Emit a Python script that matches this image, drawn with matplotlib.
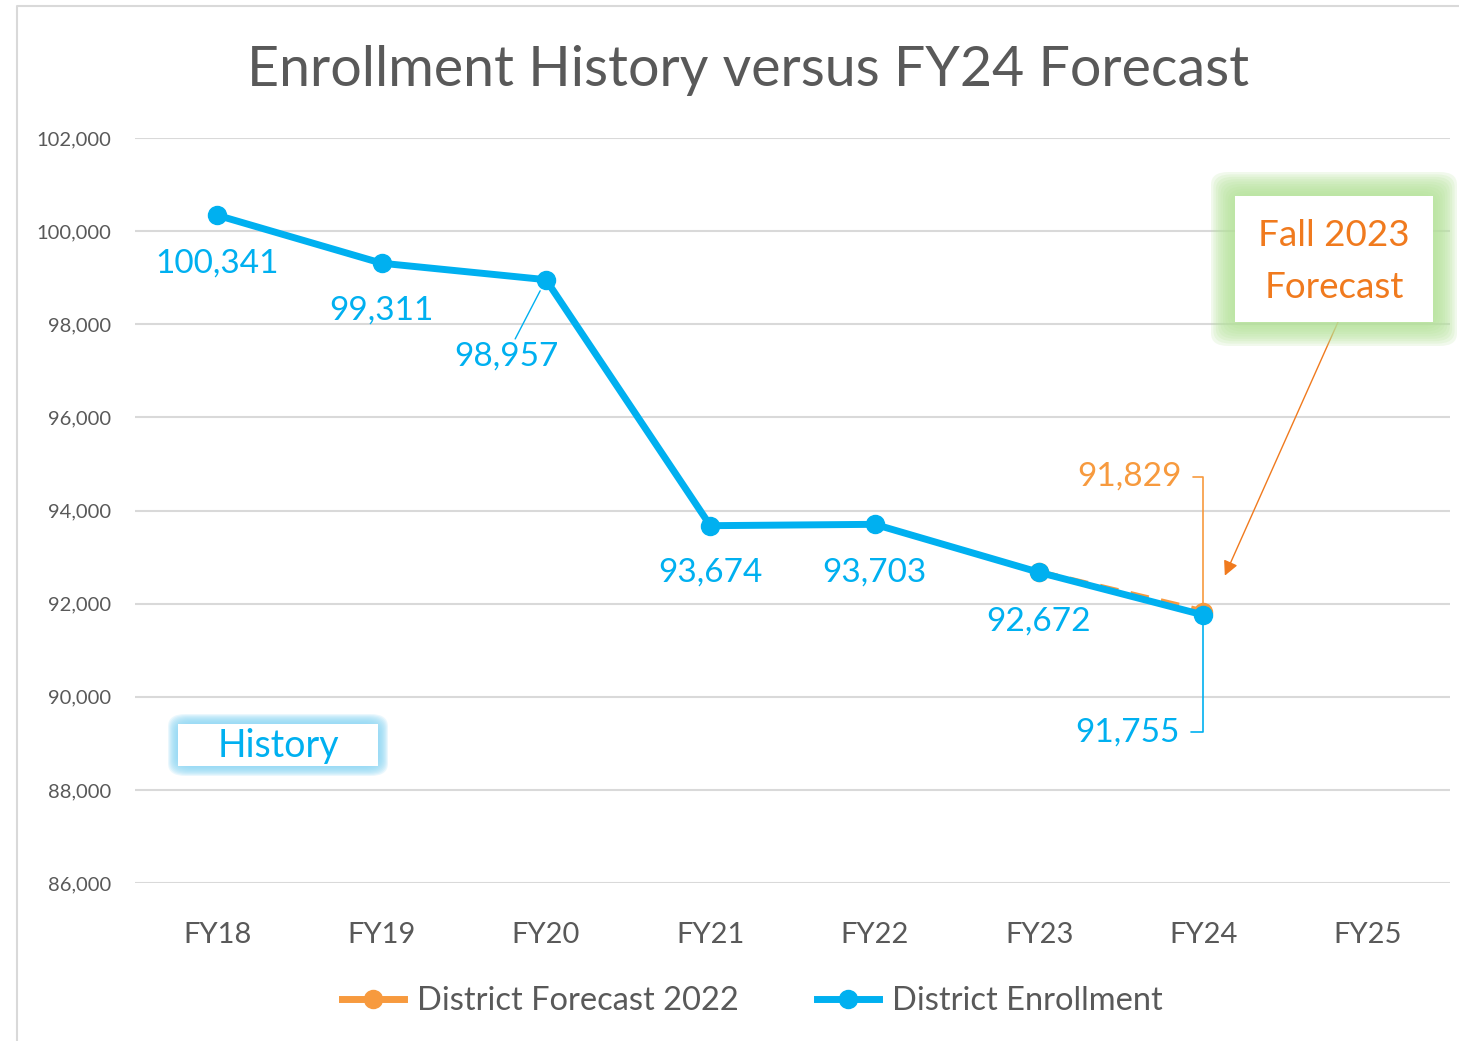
import numpy as np
import matplotlib
matplotlib.use("Agg")
import matplotlib.pyplot as plt
from matplotlib.patches import FancyBboxPatch
from matplotlib.lines import Line2D

#%% Datos
years = ["FY18", "FY19", "FY20", "FY21", "FY22", "FY23", "FY24", "FY25"]
enrollment = [100341, 99311, 98957, 93674, 93703, 92672, 91755]
forecast_years = ["FY23", "FY24"]
forecast = [92672, 91829]
y_ticks = [86000, 88000, 90000, 92000, 94000, 96000, 98000, 100000, 102000]

BLUE = "#00B0F0"
ORANGE = "#F79A3E"
ORANGE_TXT = "#F07A1E"
GRAY = "#595959"
FONT = "Lato"

W, H = 1459, 1041
plt.rcParams["font.family"] = [FONT, "DejaVu Sans"]

fig = plt.figure(figsize=(W / 100, H / 100), dpi=100)
ax = fig.add_axes([135 / W, 1 - 883 / H, (1450 - 135) / W, (883 - 138) / H])

def px(x, y):
    # pixel (desde arriba-izq) -> fraccion de figura
    return x / W, 1 - y / H

#%% Lineas
x_enr = np.arange(len(enrollment))
x_fc = np.array([years.index(y) for y in forecast_years])

ax.plot(x_fc, forecast, color=ORANGE, lw=4.5, ls=(0, (3, 2)), marker="o",
        ms=13, zorder=3, solid_capstyle="round")
ax.plot(x_enr, enrollment, color=BLUE, lw=5, marker="o", ms=13, zorder=4)

ax.set_xlim(-0.5, len(years) - 0.5)
ax.set_ylim(86000, 102000)
ax.set_yticks(y_ticks)
ax.set_yticklabels([f"{v:,}" for v in y_ticks], fontsize=14.5, color=GRAY)
ax.set_xticks(np.arange(len(years)))
ax.set_xticklabels(years, fontsize=21, color=GRAY)
ax.tick_params(length=0)
ax.tick_params(axis="y", pad=17)
ax.tick_params(axis="x", pad=28)
ax.grid(axis="y", color="#D9D9D9", lw=1.5)
ax.set_axisbelow(True)
for s in ax.spines.values():
    s.set_visible(False)

#%% Etiquetas de datos (offset en px)
offs = [(0, -48), (0, -47), (-40, -77), (0, -47), (0, -48), (0, -49)]
for i, v in enumerate(enrollment[:6]):
    dx, dy = offs[i]
    kw = {}
    if i == 2:
        kw = dict(arrowprops=dict(arrowstyle="-", color=BLUE, lw=1, shrinkA=0, shrinkB=9))
    ax.annotate(f"{v:,}", (x_enr[i], v), xytext=(dx * 0.72, dy * 0.72),
                textcoords="offset points", ha="center", va="center",
                fontsize=24, color=BLUE, **kw)

ax.annotate(f"{enrollment[6]:,}", (x_enr[6], enrollment[6]), xytext=(-76 * 0.72, -117 * 0.72),
            textcoords="offset points", ha="center", va="center", fontsize=24, color=BLUE,
            arrowprops=dict(arrowstyle="-", color=BLUE, lw=1.2, shrinkA=6, shrinkB=0,
                            connectionstyle="angle,angleA=0,angleB=90,rad=0"))
ax.annotate(f"{forecast[1]:,}", (x_fc[1], forecast[1]), xytext=(-74 * 0.72, 135 * 0.72),
            textcoords="offset points", ha="center", va="center", fontsize=24, color=ORANGE,
            arrowprops=dict(arrowstyle="-", color=ORANGE, lw=1.2, shrinkA=6, shrinkB=0,
                            connectionstyle="angle,angleA=0,angleB=90,rad=0"))

#%% Cajas con brillo
def glow_box(x0, y0, x1, y1, glow, n=10, spread=20):
    for k in range(n, 0, -1):
        p = spread * k / n
        a0, b0 = px(x0 - p, y1 + p)
        a1, b1 = px(x1 + p, y0 - p)
        fig.add_artist(FancyBboxPatch((a0, b0), a1 - a0, b1 - b0,
                                      boxstyle="round,pad=0,rounding_size=0.012",
                                      transform=fig.transFigure, fc=glow, ec="none",
                                      alpha=0.18, zorder=5))
    a0, b0 = px(x0, y1)
    a1, b1 = px(x1, y0)
    fig.add_artist(FancyBboxPatch((a0, b0), a1 - a0, b1 - b0, boxstyle="square,pad=0",
                                  transform=fig.transFigure, fc="white", ec="none", zorder=6))

glow_box(1235, 196, 1433, 322, "#B5E39A", spread=24)
fig.text(*px(1334, 236), "Fall 2023", ha="center", va="center", fontsize=26.5,
         color=ORANGE_TXT, zorder=7)
fig.text(*px(1334, 287), "Forecast", ha="center", va="center", fontsize=26.5,
         color=ORANGE_TXT, zorder=7)

glow_box(178, 724, 378, 766, "#8FD8F5", spread=10)
fig.text(*px(278, 746), "History", ha="center", va="center", fontsize=27,
         color=BLUE, zorder=7)

# flecha del pronostico
ax.annotate("", xy=(6.13, 92600), xytext=px(1338, 322), textcoords="figure fraction",
            arrowprops=dict(arrowstyle="-|>", color=ORANGE_TXT, lw=1, mutation_scale=22,
                            shrinkA=0, shrinkB=0))

#%% Titulo, borde y leyenda
fig.text(*px(748, 70), "Enrollment History versus FY24 Forecast", ha="center",
         va="center", fontsize=40, color=GRAY)
fig.add_artist(Line2D([17 / W, 17 / W, 1], [0, 1 - 6 / H, 1 - 6 / H],
                      transform=fig.transFigure, color="#D9D9D9", lw=1.5))

handles = [Line2D([], [], color=ORANGE, lw=5, marker="o", ms=13),
           Line2D([], [], color=BLUE, lw=5, marker="o", ms=13)]
fig.legend(handles, ["District Forecast 2022", "District Enrollment"],
           loc="center", bbox_to_anchor=px(752, 1001), ncol=2, frameon=False,
           fontsize=23.5, handlelength=1.9, columnspacing=2.4, handletextpad=0.4,
           labelcolor=GRAY)

fig.savefig("out.png", dpi=100)
